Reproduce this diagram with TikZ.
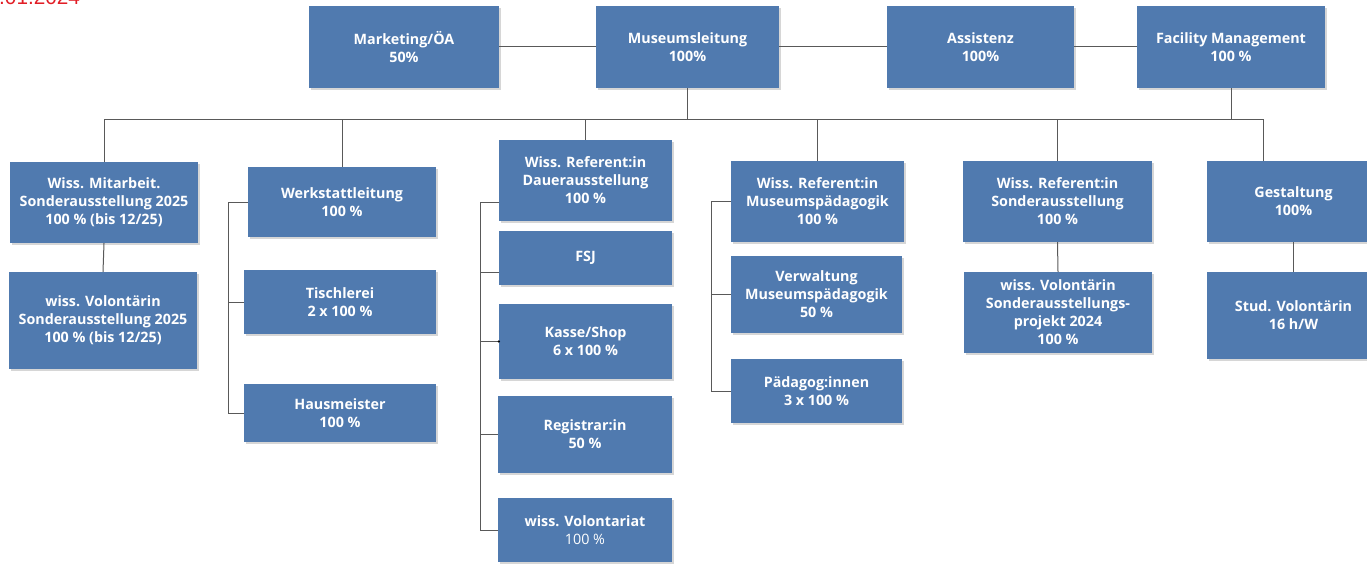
\documentclass[tikz,border=0pt]{standalone}
\usepackage{fontspec}
\setmainfont{Open Sans}
\newfontfamily\datefont{Liberation Sans}
\usepackage{tikz}
\usetikzlibrary{calc,shadows}
\definecolor{boxblue}{RGB}{80,122,175}
\definecolor{datered}{RGB}{225,30,38}

\begin{document}
\begin{tikzpicture}[x=1pt,y=-1pt,
	link/.style={draw=black!65, line width=1pt}]
	\clip (0,0) rectangle (1367,564);

	\node[anchor=base west, inner sep=0, text=datered,
		font=\datefont\fontsize{20.75}{25}\selectfont] (stand) at (-1,4.5) {.01.2024};

	\begin{scope}[every node/.style={fill=boxblue, text=white, align=center,
		inner sep=0, minimum width=188, minimum height=81,
		font=\bfseries\fontsize{14.3}{18}\selectfont,
		drop shadow={shadow xshift=2pt, shadow yshift=-2pt, fill=black!16, opacity=1}}]

	% Leitungsebene
	\node[minimum width=190, minimum height=82] (marketing) at (404,47) {Marketing/ÖA\\50\%};
	\node[minimum width=183, minimum height=82] (leitung) at (687.5,47) {Museumsleitung\\100\%};
	\node[minimum width=187, minimum height=82] (assistenz) at (980.5,47) {Assistenz\\100\%};
	\node[minimum height=82] (facility) at (1231,47) {Facility Management\\100 \%};

	% Abteilungen
	\node (mitarbeit) at (104,202.5) {Wiss. Mitarbeit.\\Sonderausstellung 2025\\100 \% (bis 12/25)};
	\node[minimum height=97] (volsonder) at (103,320.5) {wiss. Volontärin\\Sonderausstellung 2025\\100 \% (bis 12/25)};

	\node[minimum height=70] (werkstatt) at (342,202) {Werkstattleitung\\100 \%};
	\node[minimum width=192, minimum height=64] (tischlerei) at (340,302) {Tischlerei\\2 x 100 \%};
	\node[minimum width=192, minimum height=58] (hausmeister) at (340,413) {Hausmeister\\100 \%};

	\node[minimum width=173] (dauer) at (585.5,180.5) {Wiss. Referent:in\\Dauerausstellung\\100 \%};
	\node[minimum width=173, minimum height=54] (fsj) at (585.5,258) {FSJ};
	\node[minimum width=173, minimum height=75] (kasse) at (585.5,341.5) {Kasse/Shop\\6 x 100 \%};
	\node[minimum width=174, minimum height=77] (registrar) at (585,434.5) {Registrar:in\\50 \%};
	\node[minimum width=174, minimum height=64] (volontariat) at (585,530) {wiss. Volontariat\\{\mdseries 100 \%}};

	\node[minimum width=173] (mpaed) at (817.5,201.5) {Wiss. Referent:in\\Museumspädagogik\\100 \%};
	\node[minimum width=171, minimum height=77] (verwaltung) at (816.5,294.5) {Verwaltung\\Museumspädagogik\\50 \%};
	\node[minimum width=171, minimum height=64] (paedagog) at (816.5,391) {Pädagog:innen\\3 x 100 \%};

	\node[minimum width=189] (sonder) at (1057.5,201.5) {Wiss. Referent:in\\Sonderausstellung\\100 \%};
	\node (volprojekt) at (1058,312.5) {wiss. Volontärin\\Sonderausstellungs-\\projekt 2024\\100 \%};

	\node[minimum width=173] (gestaltung) at (1293.5,201.5) {Gestaltung\\100\%};
	\node[minimum width=173, minimum height=87] (stud) at (1293.5,315.5) {Stud. Volontärin\\16 h/W};
	\end{scope}

	\coordinate (busl) at (103,120);
	\coordinate (busr) at (1263,120);

	\draw[link] (marketing.east) -- (leitung.west) (leitung.east) -- (assistenz.west)
		(assistenz.east) -- (facility.west);
	\draw[link] (leitung.south) -- (leitung.south |- busl);
	\draw[link] (facility.south) -- (facility.south |- busl);
	\draw[link] (mitarbeit.north) -- (mitarbeit.north |- busl) -- (busr) -- (busr |- gestaltung.north);
	\foreach \n in {werkstatt,dauer,mpaed,sonder}
		\draw[link] (\n.north) -- (\n.north |- busl);

	\draw[link] (mitarbeit.south) -- (volsonder.north);
	\draw[link] (sonder.south) -- (volprojekt.north);
	\draw[link] (gestaltung.south) -- (stud.north);

	\draw[link] (werkstatt.west) -- ++(-19,0) |- (hausmeister.west);
	\draw[link] (tischlerei.west) -- ++(-15,0);

	\draw[link] ([yshift=-21.5pt]dauer.west) -- ++(-18,0) |- (volontariat.west);
	\draw[link] ([yshift=-14pt]fsj.west) -- ++(-18,0);
	\draw[link] (kasse.west) -- ++(-18,0);
	\draw[link] (registrar.west) -- ++(-17,0);
	\fill[black] (kasse.west) circle (1.3pt);

	\draw[link] (mpaed.west) -- ++(-19,0) |- (paedagog.west);
	\draw[link] (verwaltung.west) -- ++(-19,0);

\end{tikzpicture}
\end{document}
